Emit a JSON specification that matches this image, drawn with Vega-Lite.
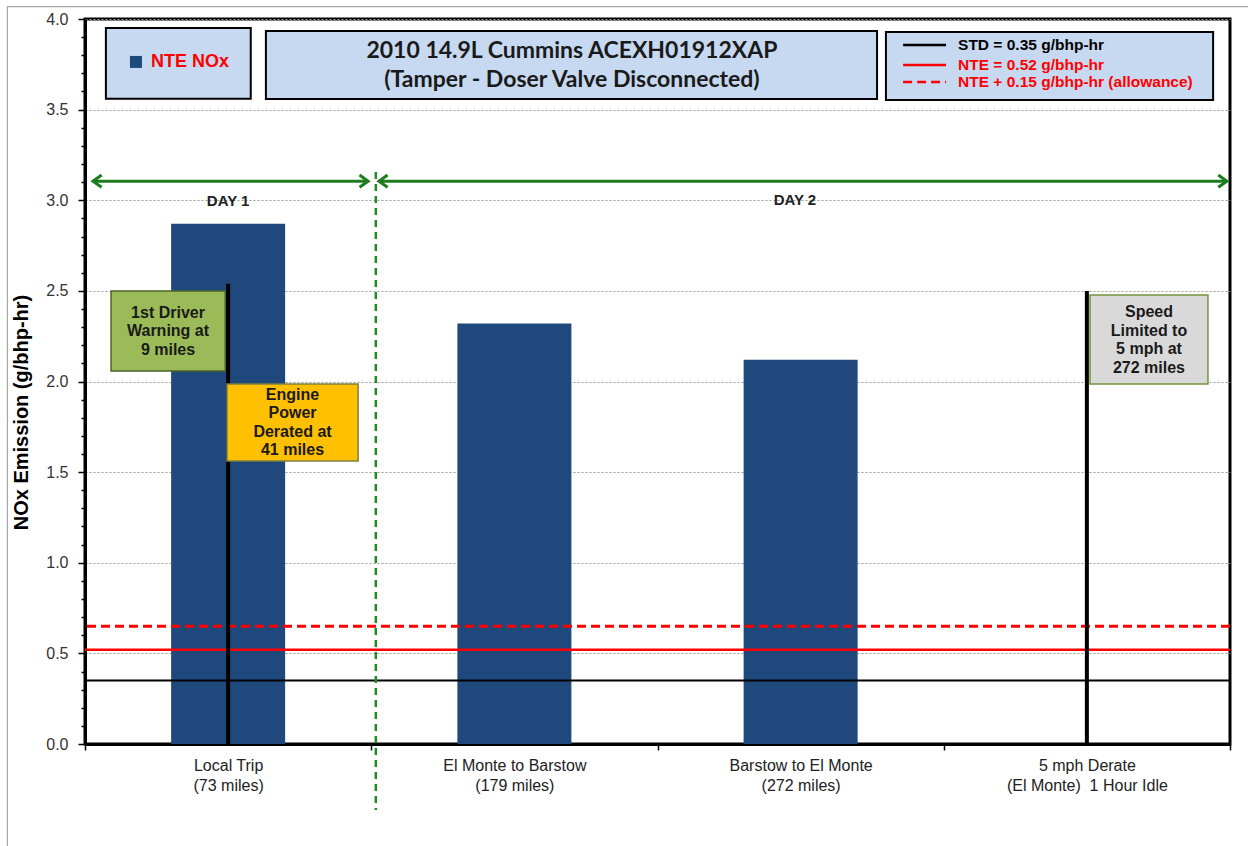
{
  "$schema": "https://vega.github.io/schema/vega-lite/v6.json",
  "autosize": "none",
  "width": 1145,
  "height": 725,
  "padding": {"left": 85, "top": 19, "right": 18, "bottom": 102},
  "background": "white",
  "config": {
    "view": {"stroke": "black", "strokeWidth": 3},
    "font": "Liberation Sans",
    "axis": {"labelFont": "Liberation Sans", "titleFont": "Liberation Sans"}
  },
  "datasets": {
    "trips": [
      {"idx": 1, "trip": "Local Trip", "miles": "(73 miles)", "nox": 2.87},
      {"idx": 2, "trip": "El Monte to Barstow", "miles": "(179 miles)", "nox": 2.32},
      {"idx": 3, "trip": "Barstow to El Monte", "miles": "(272 miles)", "nox": 2.12},
      {"idx": 4, "trip": "5 mph Derate", "miles": "(El Monte)  1 Hour Idle", "nox": 0}
    ],
    "limits": [
      {"name": "STD = 0.35 g/bhp-hr", "value": 0.35, "ly": 3.857},
      {"name": "NTE = 0.52 g/bhp-hr", "value": 0.52, "ly": 3.746},
      {"name": "NTE + 0.15 g/bhp-hr (allowance)", "value": 0.65, "ly": 3.652}
    ],
    "events": [
      {"idx": 1, "top": 2.54},
      {"idx": 4, "top": 2.5}
    ],
    "notes": [
      {"kind": "warning", "text": "1st Driver\nWarning at\n9 miles", "x0": 0.591, "x1": 0.99, "y0": 2.058, "y1": 2.499, "xc": 0.79, "yc": 2.378},
      {"kind": "derate", "text": "Engine\nPower\nDerated at\n41 miles", "x0": 0.996, "x1": 1.454, "y0": 1.561, "y1": 1.986, "xc": 1.225, "yc": 1.926},
      {"kind": "speed", "text": "Speed\nLimited to\n5 mph at\n272 miles", "x0": 4.011, "x1": 4.423, "y0": 1.986, "y1": 2.477, "xc": 4.217, "yc": 2.383}
    ],
    "days": [
      {"day": "DAY 1", "from": 0.528, "to": 1.489, "y": 3.105, "lx": 1.0, "ly": 2.996},
      {"day": "DAY 2", "from": 1.527, "to": 4.489, "y": 3.105, "lx": 2.98, "ly": 3.0}
    ],
    "panels": [
      {"panel": "legend", "x0": 0.573, "x1": 1.079, "y0": 3.56, "y1": 3.95},
      {"panel": "title", "x0": 1.132, "x1": 3.267, "y0": 3.559, "y1": 3.934},
      {"panel": "limits", "x0": 3.298, "x1": 4.441, "y0": 3.553, "y1": 3.928}
    ]
  },
  "layer": [
    {
      "data": {"values": [{"x0": 0.229, "x1": 4.6, "y0": -0.7, "y1": 4.068}]},
      "mark": {"type": "rect", "fill": null, "stroke": "#a6a6a6", "strokeWidth": 1.2},
      "encoding": {
        "x": {"field": "x0", "type": "quantitative", "scale": {"domain": [0.5, 4.5], "nice": false, "zero": false, "padding": 0}},
        "x2": {"field": "x1"},
        "y": {"field": "y0", "type": "quantitative", "scale": {"domain": [0, 4], "nice": false, "padding": 0}},
        "y2": {"field": "y1"}
      }
    },
    {
      "data": {"name": "trips"},
      "mark": {"type": "bar", "width": 114, "color": "#1f497d"},
      "encoding": {
        "x": {
          "field": "idx", "type": "quantitative",
          "scale": {"domain": [0.5, 4.5], "nice": false, "zero": false, "padding": 0},
          "axis": {
            "values": [0.5, 1, 1.5, 2, 2.5, 3, 3.5, 4, 4.5],
            "tickCount": 20,
            "labelExpr": "datum.value == 1 ? ['Local Trip', '(73 miles)'] : datum.value == 2 ? ['El Monte to Barstow', '(179 miles)'] : datum.value == 3 ? ['Barstow to El Monte', '(272 miles)'] : datum.value == 4 ? ['5 mph Derate', '(El Monte)\u00a0\u00a01 Hour Idle'] : ''",
            "labelOverlap": false,
            "labelFontSize": 16,
            "labelColor": "#222222",
            "labelPadding": 7,
            "labelLineHeight": 20,
            "labelBound": false,
            "tickColor": "black",
            "tickWidth": 1.5,
            "tickSize": 6,
            "tickOpacity": {"condition": {"test": "datum.value % 1 === 0", "value": 0}, "value": 1},
            "domainColor": "black",
            "domainWidth": 3,
            "grid": false,
            "title": null
          }
        },
        "y": {
          "field": "nox", "type": "quantitative",
          "scale": {"domain": [0, 4], "nice": false, "padding": 0},
          "axis": {
            "values": [0, 0.1, 0.2, 0.3, 0.4, 0.5, 0.6, 0.7, 0.8, 0.9, 1, 1.1, 1.2, 1.3, 1.4, 1.5, 1.6, 1.7, 1.8, 1.9, 2, 2.1, 2.2, 2.3, 2.4, 2.5, 2.6, 2.7, 2.8, 2.9, 3, 3.1, 3.2, 3.3, 3.4, 3.5, 3.6, 3.7, 3.8, 3.9, 4],
            "tickCount": 100,
            "labelExpr": "abs(datum.value * 2 - round(datum.value * 2)) < 0.001 ? format(datum.value, '.1f') : ''",
            "labelOverlap": false,
            "labelFontSize": 16,
            "labelColor": "#333333",
            "labelPadding": 10,
            "tickColor": "black",
            "tickWidth": 1.5,
            "tickSize": {"condition": {"test": "abs(datum.value * 2 - round(datum.value * 2)) < 0.001", "value": 7}, "value": 4},
            "domainColor": "black",
            "domainWidth": 3,
            "grid": true,
            "gridColor": "#9a9a9a",
            "gridDash": [2, 2],
            "gridWidth": 1,
            "gridOpacity": {"condition": {"test": "abs(datum.value * 2 - round(datum.value * 2)) < 0.001", "value": 1}, "value": 0},
            "title": "NOx Emission (g/bhp-hr)",
            "titleFontSize": 20,
            "titleFontWeight": "bold",
            "titleColor": "black",
            "titleAngle": -90,
            "titleX": -64,
            "titleY": 393,
            "titleAlign": "center",
            "titleBaseline": "middle"
          }
        }
      }
    },
    {
      "data": {"name": "limits"},
      "mark": {"type": "rule"},
      "encoding": {
        "y": {"field": "value", "type": "quantitative"},
        "color": {"field": "name", "type": "nominal", "legend": null, "scale": {"domain": ["STD = 0.35 g/bhp-hr", "NTE = 0.52 g/bhp-hr", "NTE + 0.15 g/bhp-hr (allowance)"], "range": ["#000000", "#ff0000", "#ff0000"]}},
        "strokeDash": {"field": "name", "type": "nominal", "legend": null, "scale": {"domain": ["STD = 0.35 g/bhp-hr", "NTE = 0.52 g/bhp-hr", "NTE + 0.15 g/bhp-hr (allowance)"], "range": [[1, 0], [1, 0], [9, 5]]}},
        "strokeWidth": {"field": "name", "type": "nominal", "legend": null, "scale": {"domain": ["STD = 0.35 g/bhp-hr", "NTE = 0.52 g/bhp-hr", "NTE + 0.15 g/bhp-hr (allowance)"], "range": [2, 3, 2.5]}}
      }
    },
    {
      "data": {"values": [{"boundary": 1.516, "top": 3.156, "bottom": -0.364}]},
      "mark": {"type": "rule", "color": "#228b22", "strokeWidth": 2.5, "strokeDash": [7, 5]},
      "encoding": {
        "x": {"field": "boundary", "type": "quantitative"},
        "y": {"field": "top", "type": "quantitative"},
        "y2": {"field": "bottom"}
      }
    },
    {
      "data": {"name": "events"},
      "mark": {"type": "rule", "color": "black", "strokeWidth": 4},
      "encoding": {
        "x": {"field": "idx", "type": "quantitative"},
        "y": {"field": "top", "type": "quantitative"},
        "y2": {"datum": 0}
      }
    },
    {
      "data": {"name": "notes"},
      "mark": {"type": "rect", "strokeWidth": 1.5},
      "encoding": {
        "x": {"field": "x0", "type": "quantitative"},
        "x2": {"field": "x1"},
        "y": {"field": "y0", "type": "quantitative"},
        "y2": {"field": "y1"},
        "fill": {"field": "kind", "type": "nominal", "legend": null, "scale": {"domain": ["warning", "derate", "speed"], "range": ["#9bbb59", "#ffc000", "#d9d9d9"]}},
        "stroke": {"field": "kind", "type": "nominal", "legend": null, "scale": {"domain": ["warning", "derate", "speed"], "range": ["#4f6228", "#7f7f3f", "#76923c"]}}
      }
    },
    {
      "data": {"name": "notes"},
      "mark": {"type": "text", "lineBreak": "\n", "lineHeight": 18.5, "fontSize": 16, "fontWeight": "bold", "color": "#1a1a1a", "align": "center", "baseline": "middle"},
      "encoding": {
        "x": {"field": "xc", "type": "quantitative"},
        "y": {"field": "yc", "type": "quantitative"},
        "text": {"field": "text"}
      }
    },
    {
      "data": {"name": "days"},
      "mark": {"type": "rule", "color": "#1e7b1e", "strokeWidth": 3},
      "encoding": {
        "x": {"field": "from", "type": "quantitative"},
        "x2": {"field": "to"},
        "y": {"field": "y", "type": "quantitative"}
      }
    },
    {
      "data": {"name": "days"},
      "mark": {"type": "point", "shape": "M1.4,-1L0,0L1.4,1", "filled": false, "stroke": "#1e7b1e", "strokeWidth": 3, "size": 150, "opacity": 1},
      "encoding": {
        "x": {"field": "from", "type": "quantitative"},
        "y": {"field": "y", "type": "quantitative"}
      }
    },
    {
      "data": {"name": "days"},
      "mark": {"type": "point", "shape": "M-1.4,-1L0,0L-1.4,1", "filled": false, "stroke": "#1e7b1e", "strokeWidth": 3, "size": 150, "opacity": 1},
      "encoding": {
        "x": {"field": "to", "type": "quantitative"},
        "y": {"field": "y", "type": "quantitative"}
      }
    },
    {
      "data": {"name": "days"},
      "mark": {"type": "text", "fontSize": 15, "fontWeight": "bold", "color": "#222222", "align": "center", "baseline": "middle"},
      "encoding": {
        "x": {"field": "lx", "type": "quantitative"},
        "y": {"field": "ly", "type": "quantitative"},
        "text": {"field": "day"}
      }
    },
    {
      "data": {"name": "panels"},
      "mark": {"type": "rect", "fill": "#c6d9f1", "stroke": "black", "strokeWidth": 2},
      "encoding": {
        "x": {"field": "x0", "type": "quantitative"},
        "x2": {"field": "x1"},
        "y": {"field": "y0", "type": "quantitative"},
        "y2": {"field": "y1"}
      }
    },
    {
      "data": {"values": [{"series": "NTE NOx", "x": 0.678, "y": 3.763}]},
      "mark": {"type": "point", "shape": "square", "filled": true, "color": "#1f497d", "size": 144, "opacity": 1},
      "encoding": {
        "x": {"field": "x", "type": "quantitative"},
        "y": {"field": "y", "type": "quantitative"}
      }
    },
    {
      "data": {"values": [{"series": "NTE NOx", "x": 0.731, "y": 3.763}]},
      "mark": {"type": "text", "fontSize": 18, "fontWeight": "bold", "color": "#ff0000", "align": "left", "baseline": "middle"},
      "encoding": {
        "x": {"field": "x", "type": "quantitative"},
        "y": {"field": "y", "type": "quantitative"},
        "text": {"field": "series"}
      }
    },
    {
      "data": {"values": [{"title": "2010 14.9L Cummins ACEXH01912XAP\n(Tamper - Doser Valve Disconnected)", "x": 2.201, "y": 3.823}]},
      "mark": {"type": "text", "lineBreak": "\n", "lineHeight": 29, "font": "Lato", "fontSize": 23, "fontWeight": "bold", "color": "#1a1a1a", "align": "center", "baseline": "middle"},
      "encoding": {
        "x": {"field": "x", "type": "quantitative"},
        "y": {"field": "y", "type": "quantitative"},
        "text": {"field": "title"}
      }
    },
    {
      "data": {"name": "limits"},
      "mark": {"type": "rule"},
      "encoding": {
        "x": {"datum": 3.358, "type": "quantitative"},
        "x2": {"datum": 3.508},
        "y": {"field": "ly", "type": "quantitative"},
        "color": {"field": "name", "type": "nominal", "legend": null},
        "strokeDash": {"field": "name", "type": "nominal", "legend": null},
        "strokeWidth": {"value": 2.5}
      }
    },
    {
      "data": {"name": "limits"},
      "mark": {"type": "text", "fontSize": 15.5, "fontWeight": "bold", "align": "left", "baseline": "middle"},
      "encoding": {
        "x": {"datum": 3.55, "type": "quantitative"},
        "y": {"field": "ly", "type": "quantitative"},
        "color": {"field": "name", "type": "nominal", "legend": null},
        "text": {"field": "name"}
      }
    }
  ]
}
